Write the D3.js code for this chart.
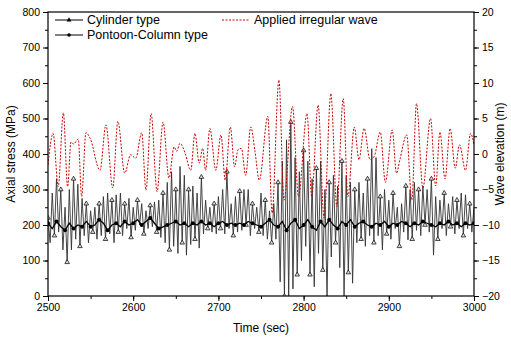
<!DOCTYPE html>
<html>
<head>
<meta charset="utf-8">
<script src="https://cdn.jsdelivr.net/npm/d3@7"></script>
<style>
  body { margin: 0; background: #fff; }
  text { font-family: "Liberation Sans", Arial, sans-serif; }
</style>
</head>
<body>
<div id="chart"></div>
<script>
// sampling of the two stress records (sec)
let cylinderStart = 2500, cylinderStep = 2.5
let pontoonStart = 2500, pontoonStep = 5

// Cylinder type axial stress (MPa), one value every 2.5 sec
let cylinderStress = [
  220, 150, 290, 170, 330, 180, 300, 130, 250, 95,
  300, 130, 330, 160, 315, 140, 275, 170, 260, 150,
  240, 180, 250, 160, 260, 170, 280, 160, 290, 175,
  270, 150, 285, 180, 290, 170, 260, 190, 275, 165,
  250, 185, 270, 200, 260, 175, 240, 190, 255, 195,
  265, 180, 270, 165, 290, 150, 320, 130, 350, 140,
  300, 120, 365, 150, 340, 115, 300, 145, 310, 160,
  290, 135, 335, 175, 270, 190, 250, 180, 260, 175,
  280, 190, 300, 175, 350, 190, 260, 170, 280, 180,
  295, 185, 300, 200, 300, 170, 260, 190, 250, 180,
  290, 170, 270, 160, 240, 150, 260, 160, 320, 40,
  380, 0, 440, 0, 490, 20, 390, 60, 350, 100,
  410, 140, 380, 60, 330, 26, 360, 120, 380, 73,
  300, 0, 320, 110, 340, 150, 310, 80, 380, 0,
  340, 66, 320, 36, 300, 150, 320, 160, 290, 140,
  330, 170, 415, 150, 390, 170, 280, 130, 300, 175,
  270, 160, 290, 190, 250, 140, 260, 180, 310, 158,
  300, 160, 320, 185, 300, 170, 310, 200, 300, 180,
  330, 115, 280, 160, 270, 190, 290, 170, 260, 195,
  280, 175, 270, 190, 290, 170, 285, 190, 260, 180,
  250
]

// Pontoon-Column type axial stress (MPa), one value every 5 sec
let pontoonStress = [
  205, 190, 210, 195, 185, 205, 190, 200, 195, 210,
  195, 200, 215, 205, 185, 200, 205, 195, 210, 200,
  205, 215, 200, 210, 220, 205, 190, 195, 200, 205,
  210, 200, 205, 195, 205, 200, 210, 200, 205, 195,
  205, 210, 200, 205, 200, 205, 200, 210, 205, 200,
  195, 205, 215, 200, 195, 210, 185, 205, 215, 190,
  200, 215, 195, 185, 210, 195, 215, 200, 190, 210,
  200, 215, 195, 205, 210, 200, 195, 205, 200, 210,
  195, 205, 200, 210, 205, 195, 205, 200, 210, 205,
  200, 195, 205, 200, 210, 200, 205, 195, 205, 200,
  205
]

// Applied irregular wave, crests and troughs (sec, m)
let waveTime = [
  2500, 2506, 2512, 2518, 2523, 2527, 2530, 2535.5, 2539.5, 2544.5,
  2549.5, 2561, 2568, 2576, 2582, 2590, 2597, 2603, 2610, 2615,
  2621, 2628, 2635, 2642, 2648, 2651, 2655, 2661, 2667.5, 2672.5,
  2677.5, 2681.5, 2685, 2690, 2697, 2703, 2708, 2714, 2719, 2723,
  2727, 2732, 2738, 2743, 2748, 2758, 2763, 2771, 2777, 2787,
  2794, 2804, 2809.5, 2817, 2824, 2832, 2839, 2846.5, 2852, 2859.5,
  2865, 2871, 2878, 2883, 2890, 2896, 2904, 2909, 2913, 2921,
  2927, 2932.5, 2940, 2949, 2955, 2960, 2966, 2972, 2978, 2983,
  2990, 2996, 3000
]
let waveElevation = [
  -1.5, 2.9, -4.6, 5.8, -4.6, 1.7, 1.4, 2.1, -6.0, 3.0,
  2.2, -2.3, 4.1, -4.8, 4.6, -2.7, -0.1, -0.6, 3.0, -5.1,
  5.7, -5.3, 4.5, -3.4, 1.0, 0.4, 1.5, 0.1, -2.3, 2.9,
  -1.3, 0.8, -2.3, 3.6, -2.3, 2.7, -3.7, 3.8, -1.8, 0.6,
  0.8, -3.0, 3.8, 0.3, -3.7, 5.3, -8.3, 10.4, -6.5, 6.7,
  -6.0, 5.7, -6.0, 6.9, -9.0, 8.5, -7.4, 7.8, -6.0, 3.8,
  -0.8, 3.6, -0.8, -0.3, 3.1, -4.0, 3.4, -2.7, -0.8, 2.7,
  -6.5, 7.1, -4.8, 5.0, -4.5, 3.1, -3.5, 3.6, -2.0, 1.3,
  -2.3, 2.9, 1.3
]

let stressTicks = [0, 100, 200, 300, 400, 500, 600, 700, 800]
let waveTicks = [-20, -15, -10, -5, 0, 5, 10, 15, 20]
let timeTicks = [2500, 2600, 2700, 2800, 2900, 3000]

let margin = {top: 12, left: 48, right: 37, bottom: 45},
  width = 511 - margin.left - margin.right,
  height = 341 - margin.top - margin.bottom

let svg = d3.select('#chart')
  .append('svg')
  .attr('width', 511)
  .attr('height', 341)
  .style('background-color', '#FFFFFF')

let g = svg.append('g').attr('transform', 'translate(' + margin.left + ',' + margin.top + ')')

let x = d3.scaleLinear().domain([2500, 3000]).range([0, width])
let y = d3.scaleLinear().domain([0, 800]).range([height, 0])
let yw = d3.scaleLinear().domain([-20, 20]).range([height, 0])

g.append('clipPath').attr('id', 'plot-clip')
  .append('rect').attr('width', width).attr('height', height)

let cylinder = cylinderStress.map(function(v, i) { return {t: cylinderStart + i * cylinderStep, v: v} })
let pontoon = pontoonStress.map(function(v, i) { return {t: pontoonStart + i * pontoonStep, v: v} })
let wave = waveTime.map(function(t, i) { return {t: t, v: waveElevation[i]} })

let plot = g.append('g').attr('clip-path', 'url(#plot-clip)')

// cylinder type: thin line with hollow triangles
let stressLine = d3.line()
  .x(function(d) { return x(d.t) })
  .y(function(d) { return y(d.v) })

plot.append('path')
  .datum(cylinder)
  .attr('d', stressLine)
  .attr('fill', 'none')
  .attr('stroke', '#333')
  .attr('stroke-width', 0.9)

let tri = d3.symbol().type(d3.symbolTriangle).size(9)

plot.selectAll('.tri')
  .data(cylinder.filter(function(d, i) { return i % 3 == 0 }))
  .enter().append('path')
  .attr('class', 'tri')
  .attr('d', tri)
  .attr('transform', function(d) { return 'translate(' + x(d.t) + ',' + y(d.v) + ')' })
  .attr('fill', '#ddd')
  .attr('stroke', '#000')
  .attr('stroke-width', 0.7)

// pontoon-column type: thick line with filled dots
plot.append('path')
  .datum(pontoon)
  .attr('d', stressLine)
  .attr('fill', 'none')
  .attr('stroke', '#000')
  .attr('stroke-width', 1.3)

plot.selectAll('.dot')
  .data(pontoon.filter(function(d, i) { return i % 2 == 0 }))
  .enter().append('circle')
  .attr('class', 'dot')
  .attr('cx', function(d) { return x(d.t) })
  .attr('cy', function(d) { return y(d.v) })
  .attr('r', 2)
  .attr('fill', '#000')

// applied wave on the right axis
let waveLine = d3.line()
  .curve(d3.curveMonotoneX)
  .x(function(d) { return x(d.t) })
  .y(function(d) { return yw(d.v) })

plot.append('path')
  .datum(wave)
  .attr('d', waveLine)
  .attr('fill', 'none')
  .attr('stroke', '#cc0000')
  .attr('stroke-width', 1)
  .attr('stroke-dasharray', '2,1.5')

// axes
let minor = function(domain, step) { return d3.range(domain[0], domain[1] + 0.001, step) }

g.append('g')
  .attr('transform', 'translate(0,' + height + ')')
  .call(d3.axisBottom(x).tickValues(minor([2500, 3000], 50)).tickSize(3).tickFormat(''))
g.append('g')
  .attr('class', 'axis axis--x')
  .attr('transform', 'translate(0,' + height + ')')
  .call(d3.axisBottom(x).tickValues(timeTicks).tickSize(5).tickSizeOuter(0).tickFormat(d3.format('d')))

g.append('g')
  .call(d3.axisLeft(y).tickValues(minor([0, 800], 50)).tickSize(3).tickFormat(''))
g.append('g')
  .attr('class', 'axis axis--y')
  .call(d3.axisLeft(y).tickValues(stressTicks).tickSize(5).tickSizeOuter(0))

g.append('g')
  .attr('transform', 'translate(' + width + ',0)')
  .call(d3.axisRight(yw).tickValues(minor([-20, 20], 2.5)).tickSize(3).tickFormat(''))
g.append('g')
  .attr('class', 'axis axis--y2')
  .attr('transform', 'translate(' + width + ',0)')
  .call(d3.axisRight(yw).tickValues(waveTicks).tickSize(5).tickSizeOuter(0))

g.selectAll('.tick text').style('font-family', '"Liberation Sans", Arial, sans-serif').style('font-size', '10.5px').attr('fill', '#000')
g.selectAll('.domain').remove()

g.append('rect')
  .attr('width', width)
  .attr('height', height)
  .attr('fill', 'none')
  .attr('stroke', '#000')
  .attr('stroke-width', 1.2)

// axis titles
svg.append('text')
  .attr('transform', 'translate(15,' + (margin.top + height / 2) + ') rotate(-90)')
  .attr('text-anchor', 'middle')
  .style('font-size', '12px')
  .text('Axial stress (MPa)')

svg.append('text')
  .attr('transform', 'translate(504,' + (margin.top + height / 2) + ') rotate(-90)')
  .attr('text-anchor', 'middle')
  .style('font-size', '12px')
  .text('Wave elevation (m)')

svg.append('text')
  .attr('x', margin.left + width / 2)
  .attr('y', 332)
  .attr('text-anchor', 'middle')
  .style('font-size', '12px')
  .text('Time (sec)')

// legend
let legend = [
  {name: 'Cylinder type', x: 55, y: 20, kind: 'tri'},
  {name: 'Pontoon-Column type', x: 55, y: 35, kind: 'dot'},
  {name: 'Applied irregular wave', x: 222, y: 20, kind: 'wave'}
]

let item = svg.selectAll('.legend')
  .data(legend)
  .enter().append('g')
  .attr('class', 'legend')
  .attr('transform', function(d) { return 'translate(' + d.x + ',' + d.y + ')' })

item.append('line')
  .attr('x1', 0).attr('x2', 28)
  .attr('stroke', function(d) { return d.kind == 'wave' ? '#cc0000' : '#000' })
  .attr('stroke-width', 1)
  .attr('stroke-dasharray', function(d) { return d.kind == 'wave' ? '2,1.5' : null })

item.filter(function(d) { return d.kind == 'tri' })
  .append('path')
  .attr('d', d3.symbol().type(d3.symbolTriangle).size(10))
  .attr('transform', 'translate(14,0)')
  .attr('fill', '#000')

item.filter(function(d) { return d.kind == 'dot' })
  .append('circle')
  .attr('cx', 14).attr('r', 1.8)
  .attr('fill', '#000')

item.append('text')
  .attr('x', 32)
  .attr('dy', '0.35em')
  .style('font-size', '12.5px')
  .text(function(d) { return d.name })
</script>
</body>
</html>
